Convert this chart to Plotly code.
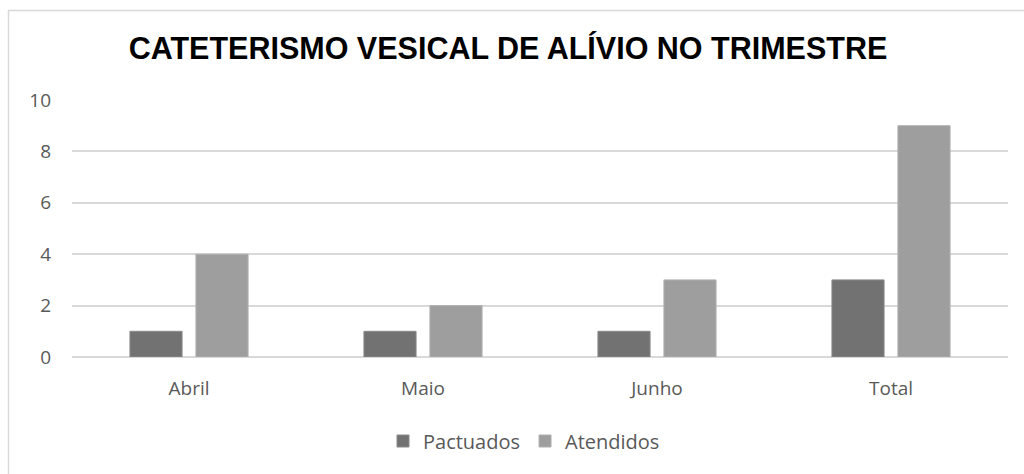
import plotly.graph_objects as go

categories = ["Abril", "Maio", "Junho", "Total"]
pactuados = [1, 1, 1, 3]
atendidos = [4, 2, 3, 9]
y_ticks = [0, 2, 4, 6, 8, 10]

W, H = 1024, 474
ml, mr, mt, mb = 72, 16, 100, 117
pw = W - ml - mr
ph = H - mt - mb

def px_x(x):
    return (x - ml) / pw

def px_y(y):
    return (H - mb - y) / ph

tick_font = dict(family="Open Sans, Noto Sans, sans-serif", size=19, color="#595959")
legend_font = dict(family="Open Sans, Noto Sans, sans-serif", size=20, color="#595959")

fig = go.Figure()
fig.add_trace(go.Bar(name="Pactuados", x=categories, y=pactuados,
                     marker=dict(color="#727272", line=dict(color="#8a8a8a", width=1))))
fig.add_trace(go.Bar(name="Atendidos", x=categories, y=atendidos,
                     marker=dict(color="#9e9e9e", line=dict(color="#b0b0b0", width=1))))

fig.update_layout(
    width=W, height=H,
    margin=dict(l=ml, r=mr, t=mt, b=mb, autoexpand=False),
    paper_bgcolor="white", plot_bgcolor="white",
    barmode="group", bargap=0.436, bargroupgap=0.21,
    title=dict(text="<b>CATETERISMO VESICAL DE ALÍVIO NO TRIMESTRE</b>",
               x=508 / W, xanchor="center", y=1 - 48 / H, yanchor="middle",
               font=dict(family="Liberation Sans, Arial, sans-serif", size=30.5, color="black")),
    showlegend=True,
    legend=dict(orientation="h", x=px_x(524), xanchor="center", y=px_y(441), yanchor="middle",
                font=legend_font, traceorder="normal", itemwidth=30),
    xaxis=dict(showgrid=False, showline=False, ticks="", tickfont=tick_font,
               ticklabelstandoff=18),
    yaxis=dict(range=[0, 10], tickvals=y_ticks, showgrid=True, gridcolor="#d9d9d9",
               gridwidth=1.5, zeroline=True, zerolinecolor="#d9d9d9", zerolinewidth=1.5,
               showline=False, ticks="", tickfont=tick_font, ticklabelstandoff=20),
    shapes=[dict(type="rect", xref="paper", yref="paper",
                 x0=px_x(8.5), x1=px_x(1040), y0=px_y(500), y1=px_y(10.5),
                 line=dict(color="#d9d9d9", width=1.5), fillcolor="rgba(0,0,0,0)", layer="below")],
)

fig.write_html("out.html", config={"displayModeBar": False},
               post_script="document.body.style.margin='0px';")
